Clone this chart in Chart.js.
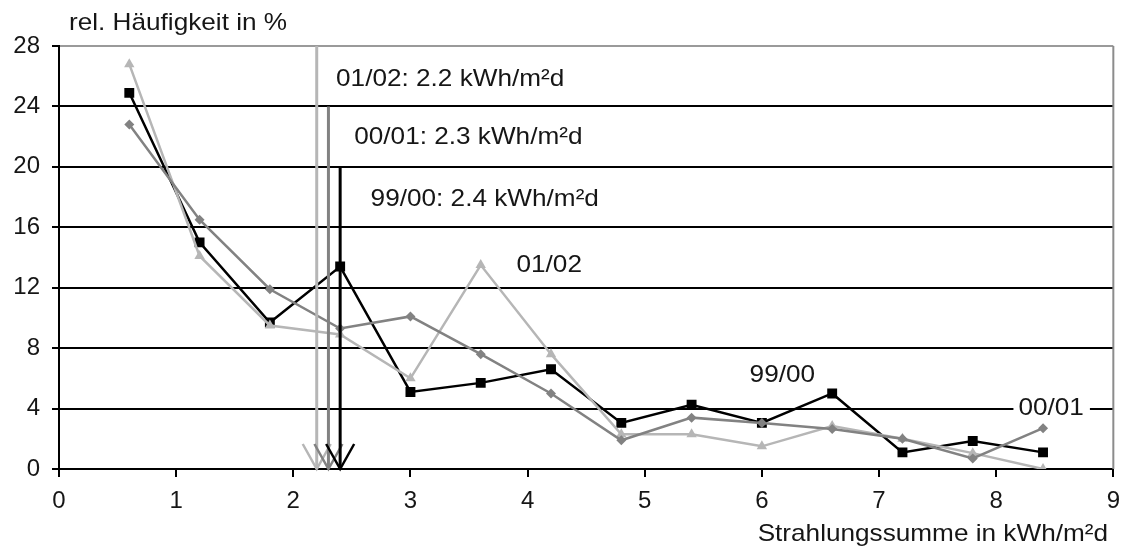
<!DOCTYPE html>
<html>
<head>
<meta charset="utf-8">
<script src="https://cdn.jsdelivr.net/npm/chart.js@4/dist/chart.umd.min.js"></script>
<style>
  html, body { margin: 0; padding: 0; background: #fff; }
  #wrap { width: 1130px; height: 548px; }
</style>
</head>
<body>
<div id="wrap"><canvas id="c" width="1130" height="548"></canvas></div>
<script>
// Daily radiation sum classes (kWh/m²d) and relative frequency per season (%)
const radiation = [0.6, 1.2, 1.8, 2.4, 3.0, 3.6, 4.2, 4.8, 5.4, 6.0, 6.6, 7.2, 7.8, 8.4];
const freq9900 = [24.9, 15.0, 9.7, 13.4, 5.1, 5.7, 6.6, 3.05, 4.25, 3.05, 5.0, 1.1, 1.85, 1.1];
const freq0001 = [22.8, 16.5, 11.9, 9.3, 10.1, 7.6, 5.0, 1.9, 3.4, 3.05, 2.65, 2.0, 0.7, 2.7];
const freq0102 = [26.8, 14.1, 9.5, 8.9, 6.0, 13.5, 7.6, 2.3, 2.3, 1.5, 2.85, 2.0, 1.05, 0.0];

// Axis ticks
const xTicks = [0, 1, 2, 3, 4, 5, 6, 7, 8, 9];
const yTicks = [0, 4, 8, 12, 16, 20, 24, 28];

// Seasonal mean radiation, marked by vertical arrows
const meanSeason = ['01/02', '00/01', '99/00'];
const meanValue = [2.2, 2.3, 2.4];
const meanArrowTop = [28, 24, 20];

const FONT = "'Liberation Sans', Arial, sans-serif";
const TEXT = '#161616';
const C_BLACK = '#000000';
const C_DARK = '#828282';
const C_LIGHT = '#b6b6b6';
const arrowColors = [C_LIGHT, C_DARK, C_BLACK];
const TEXT_STRETCH = 1.09; // the labels use a wide face; widen Liberation Sans to suit

const toXY = ys => radiation.map((x, i) => ({ x, y: ys[i] }));

function wideText(ctx, t, x, y, align) {
  ctx.save();
  ctx.translate(x, y);
  ctx.scale(TEXT_STRETCH, 1);
  ctx.textAlign = align;
  ctx.fillText(t, 0, 0);
  ctx.restore();
}

const annotations = {
  id: 'annotations',
  afterDatasetsDraw(chart) {
    const { ctx, chartArea: a, scales: { x, y } } = chart;
    ctx.save();

    // plot-area frame on the right
    ctx.strokeStyle = '#8c8c8c';
    ctx.lineWidth = 2;
    ctx.beginPath();
    ctx.moveTo(a.right, a.top);
    ctx.lineTo(a.right, a.bottom);
    ctx.stroke();

    // mean arrows
    meanValue.forEach((v, i) => {
      const px = x.getPixelForValue(v);
      const top = y.getPixelForValue(meanArrowTop[i]);
      const bot = y.getPixelForValue(0);
      ctx.strokeStyle = arrowColors[i];
      ctx.lineWidth = 3;
      ctx.beginPath();
      ctx.moveTo(px, top);
      ctx.lineTo(px, bot);
      ctx.stroke();
      ctx.lineWidth = 2.5;
      ctx.beginPath();
      ctx.moveTo(px - 14, bot - 25);
      ctx.lineTo(px, bot);
      ctx.lineTo(px + 14, bot - 25);
      ctx.stroke();
    });

    ctx.fillStyle = TEXT;
    ctx.font = '24px ' + FONT;
    ctx.textBaseline = 'middle';

    // mean labels
    const meanLabelPos = [[2.365, 25.8], [2.52, 21.95], [2.66, 17.85]];
    meanValue.forEach((v, i) => {
      const [lx, ly] = meanLabelPos[i];
      wideText(ctx, meanSeason[i] + ': ' + v.toFixed(1) + ' kWh/m²d',
        x.getPixelForValue(lx), y.getPixelForValue(ly), 'left');
    });

    // series labels
    const seriesLabels = [['01/02', 3.905, 13.5, false], ['99/00', 5.895, 6.2, false], ['00/01', 8.19, 4.0, true]];
    seriesLabels.forEach(([t, lx, ly, boxed]) => {
      const px = x.getPixelForValue(lx), py = y.getPixelForValue(ly);
      if (boxed) {
        const w = ctx.measureText(t).width * TEXT_STRETCH;
        ctx.fillStyle = '#fff';
        ctx.fillRect(px - 5, py - 6, w + 11, 12);
        ctx.fillStyle = TEXT;
      }
      wideText(ctx, t, px, py, 'left');
    });

    // axis titles
    wideText(ctx, 'rel. Häufigkeit in %', 69, 23, 'left');
    wideText(ctx, 'Strahlungssumme in kWh/m²d', 1108, 534, 'right');
    ctx.restore();
  }
};

new Chart(document.getElementById('c'), {
  type: 'line',
  data: {
    datasets: [
      {
        label: '00/01', data: toXY(freq0001), borderColor: C_DARK, backgroundColor: C_DARK,
        borderWidth: 2.5, pointStyle: 'rectRot', pointRadius: 5, pointBorderWidth: 0, tension: 0
      },
      {
        label: '01/02', data: toXY(freq0102), borderColor: C_LIGHT, backgroundColor: C_LIGHT,
        borderWidth: 2.5, pointStyle: 'triangle', pointRadius: 6, pointBorderWidth: 0, tension: 0
      },
      {
        label: '99/00', data: toXY(freq9900), borderColor: C_BLACK, backgroundColor: C_BLACK,
        borderWidth: 2.5, pointStyle: 'rect', pointRadius: 7, pointBorderWidth: 0, tension: 0
      }
    ]
  },
  options: {
    responsive: false,
    devicePixelRatio: 1,
    animation: false,
    layout: { padding: { top: 46, right: 13, left: 0, bottom: 0 } },
    plugins: { legend: { display: false }, tooltip: { enabled: false } },
    scales: {
      x: {
        type: 'linear', min: 0, max: 9,
        afterFit: s => { s.height = 79; },
        afterBuildTicks: s => { s.ticks = xTicks.map(v => ({ value: v })); },
        grid: { drawOnChartArea: false, drawTicks: true, tickLength: 8, color: '#000', lineWidth: 2 },
        border: { color: '#000', width: 2 },
        ticks: { color: TEXT, font: { family: FONT, size: 24 }, padding: 10, maxRotation: 0 }
      },
      y: {
        min: 0, max: 28,
        afterFit: s => { s.width = 59; },
        afterBuildTicks: s => { s.ticks = yTicks.map(v => ({ value: v })); },
        grid: {
          color: c => (c.tick && c.tick.value === 28 ? '#9a9a9a' : '#000'),
          tickColor: '#000', lineWidth: 2, drawTicks: true, tickLength: 7
        },
        border: { color: '#000', width: 2 },
        ticks: { color: TEXT, font: { family: FONT, size: 24 }, padding: 12 }
      }
    }
  },
  plugins: [annotations]
});
</script>
</body>
</html>
